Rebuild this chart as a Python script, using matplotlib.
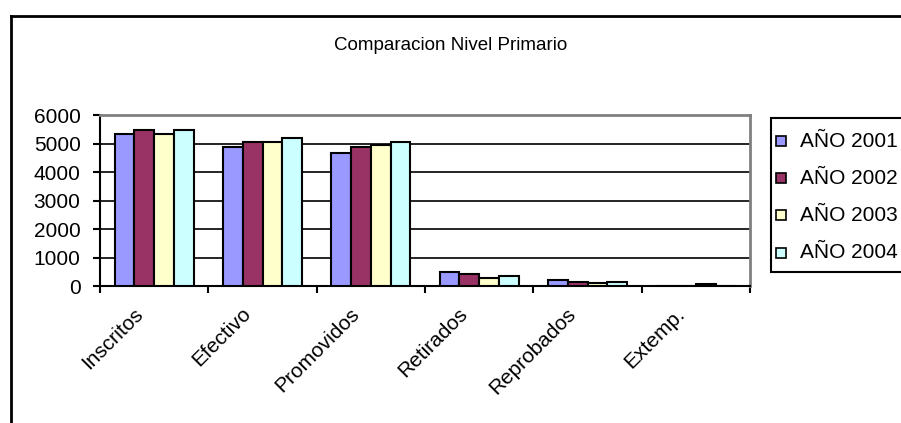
import matplotlib.pyplot as plt
import numpy as np
from matplotlib.lines import Line2D
from matplotlib.patches import Rectangle
from matplotlib.transforms import ScaledTranslation

plt.rcParams['font.family'] = ['Liberation Sans', 'DejaVu Sans']

categories = ['Inscritos', 'Efectivo', 'Promovidos', 'Retirados', 'Reprobados', 'Extemp.']
series_names = ['AÑO 2001', 'AÑO 2002', 'AÑO 2003', 'AÑO 2004']
y2001 = [5350, 4860, 4660, 480, 195, 0]
y2002 = [5480, 5070, 4860, 420, 125, 0]
y2003 = [5350, 5070, 4940, 270, 115, 70]
y2004 = [5480, 5210, 5070, 350, 125, 0]
colors = ['#9999FF', '#993366', '#FFFFCC', '#CCFFFF']

W, H = 901, 423
fig = plt.figure(figsize=(W / 100, H / 100), dpi=100)
ax = fig.add_axes([100 / W, 1 - 286 / H, 650 / W, 171 / H])

x = np.arange(len(categories))
bw = 1 / 5.5
for j, (vals, col) in enumerate(zip([y2001, y2002, y2003, y2004], colors)):
    ax.bar(x + (j - 1.5) * bw, vals, bw, color=col, edgecolor='black',
           linewidth=1.5, zorder=3)

ax.set_xlim(-0.5, len(categories) - 0.5)
ax.set_ylim(0, 6000)
ax.set_yticks(range(0, 6001, 1000))
ax.yaxis.grid(True, color='black', linewidth=1.2, zorder=1)
ax.tick_params(axis='y', direction='out', length=5, width=1.5, labelsize=15, pad=9)

ax.set_xticks(x)
ax.set_xticklabels(categories, rotation=45, ha='right', rotation_mode='anchor', fontsize=15)
ax.set_xticks(np.arange(-0.5, len(categories), 1), minor=True)
ax.tick_params(axis='x', which='major', length=0, pad=13)
ax.tick_params(axis='x', which='minor', direction='out', length=5, width=1.5)
shift = ScaledTranslation(-21 / 100, 0, fig.dpi_scale_trans)
for lab in ax.get_xticklabels():
    lab.set_transform(lab.get_transform() + shift)

for s in ['left', 'bottom']:
    ax.spines[s].set_color('black')
    ax.spines[s].set_linewidth(1.5)
for s in ['top', 'right']:
    ax.spines[s].set_color('#808080')
    ax.spines[s].set_linewidth(2)

fig.text(0.5, 1 - 45 / H, 'Comparacion Nivel Primario', ha='center', va='center', fontsize=13.5)

# legend box, drawn by hand so it matches the cropped Excel legend
fig.add_artist(Rectangle((771 / W, 1 - 272 / H), 140 / W, 154 / H, transform=fig.transFigure,
                         facecolor='white', edgecolor='black', linewidth=1.5))
row_y = [141.5, 178.5, 215.5, 252.5]
for name, col, ry in zip(series_names, colors, row_y):
    fig.add_artist(Rectangle((776 / W, 1 - (ry + 5) / H), 10 / W, 10 / H,
                             transform=fig.transFigure, facecolor=col,
                             edgecolor='black', linewidth=1.2))
    fig.text(800 / W, 1 - ry / H, name, ha='left', va='center', fontsize=15)

# outer chart frame (cropped on the right and bottom)
fig.add_artist(Line2D([11 / W, 11 / W], [0, 1 - 16 / H], color='black', linewidth=2))
fig.add_artist(Line2D([11 / W, 1], [1 - 16 / H, 1 - 16 / H], color='black', linewidth=2))

fig.savefig('out.png', dpi=100)
